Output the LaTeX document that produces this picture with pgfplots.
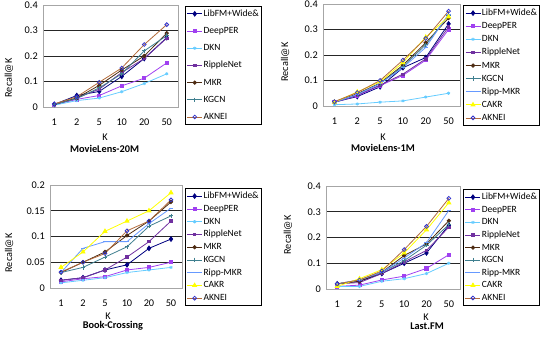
\documentclass[border=0pt]{standalone}
\usepackage{fontspec}
\setmainfont{Carlito}
\usepackage{pgfplots}
\pgfplotsset{compat=1.18}
\usepackage{pgfplotstable}

\definecolor{c1}{HTML}{000080}
\definecolor{c2}{HTML}{A040F0}
\definecolor{c3}{HTML}{66CCFF}
\definecolor{c4}{HTML}{7030A0}
\definecolor{c5}{HTML}{4D2B12}
\definecolor{c6}{HTML}{3F7F8F}
\definecolor{c7}{HTML}{6699FF}
\definecolor{c8}{HTML}{FFFF00}
\definecolor{c9}{HTML}{B36B3A}
\definecolor{c9m}{HTML}{3333CC}

% MovieLens-20M
\pgfplotstableread{
x libfm deepper dkn ripple mkr kgcn aknei
0 0.010 0.008 0.007 0.010 0.010 0.010 0.012
1 0.045 0.030 0.025 0.035 0.035 0.033 0.040
2 0.061 0.045 0.035 0.070 0.085 0.075 0.097
3 0.120 0.083 0.060 0.135 0.145 0.130 0.153
4 0.190 0.113 0.092 0.190 0.200 0.220 0.245
5 0.272 0.173 0.130 0.270 0.290 0.280 0.323
}\mltwenty

% MovieLens-1M
\pgfplotstableread{
x libfm deepper dkn ripple mkr kgcn rippmkr cakr aknei
0 0.015 0.015 0.005 0.015 0.015 0.015 0.015 0.015 0.017
1 0.037 0.040 0.008 0.042 0.048 0.045 0.045 0.055 0.053
2 0.075 0.080 0.015 0.082 0.090 0.088 0.088 0.095 0.100
3 0.150 0.120 0.020 0.125 0.160 0.155 0.150 0.170 0.180
4 0.190 0.180 0.035 0.185 0.248 0.240 0.230 0.270 0.265
5 0.322 0.300 0.050 0.310 0.345 0.355 0.360 0.350 0.372
}\mlone

% Book-Crossing
\pgfplotstableread{
x libfm deepper dkn ripple mkr kgcn rippmkr cakr aknei
0 0.015 0.012 0.010 0.015 0.030 0.030 0.030 0.040 0.031
1 0.020 0.018 0.015 0.020 0.050 0.040 0.077 0.070 0.050
2 0.035 0.022 0.020 0.035 0.070 0.060 0.090 0.110 0.067
3 0.045 0.035 0.030 0.060 0.102 0.080 0.090 0.130 0.111
4 0.077 0.040 0.035 0.090 0.130 0.120 0.125 0.150 0.130
5 0.095 0.050 0.040 0.130 0.167 0.140 0.155 0.185 0.171
}\bookx

% Last.FM
\pgfplotstableread{
x libfm deepper dkn ripple mkr kgcn rippmkr cakr aknei
0 0.020 0.010 0.010 0.020 0.020 0.020 0.020 0.010 0.020
1 0.030 0.015 0.010 0.025 0.030 0.035 0.035 0.040 0.035
2 0.060 0.035 0.030 0.060 0.065 0.065 0.065 0.075 0.070
3 0.100 0.050 0.040 0.105 0.130 0.110 0.120 0.140 0.153
4 0.140 0.080 0.060 0.150 0.175 0.170 0.180 0.230 0.243
5 0.248 0.133 0.100 0.240 0.265 0.250 0.305 0.335 0.352
}\lastfm

\pgfplotsset{
  s1/.style={color=c1, line width=0.8pt, mark=diamond*, mark size=2.3pt, mark options={solid}},
  s2/.style={color=c2, line width=0.8pt, mark=square*, mark size=1.6pt, mark options={solid}},
  s3/.style={color=c3, line width=0.8pt, mark=asterisk, mark size=1.6pt, mark options={solid}},
  s4/.style={color=c4, line width=0.8pt, mark=square*, mark size=1.2pt, mark options={solid}},
  s5/.style={color=c5, line width=0.8pt, mark=*, mark size=1.7pt, mark options={solid}},
  s6/.style={color=c6, line width=0.8pt, mark=+, mark size=2.2pt, mark options={solid}},
  s7/.style={color=c7, line width=0.8pt, mark=-, mark size=2.2pt, mark options={solid}},
  s8/.style={color=c8, line width=0.8pt, mark=triangle*, mark size=2.3pt, mark options={solid}},
  s9/.style={color=c9, line width=0.8pt, mark=o, mark size=1.9pt, mark options={solid, draw=c9m, fill=white, line width=0.8pt}},
  base/.style={
    scale only axis, anchor=south west, clip=false,
    xmin=-0.5, xmax=5.5, xtick={0,...,5}, xticklabels={1,2,5,10,20,50},
    ymin=0,
    major tick length=0pt,
    axis line style={gray!70},
    ymajorgrids,
    major grid style={black!85, line width=0.8pt},
    extra tick style={grid=none},
    tick label style={font=\fontsize{10.3}{12}\selectfont},
    /pgf/number format/assume math mode=true,
    yticklabel style={/pgf/number format/fixed, /pgf/number format/precision=2, xshift=-1.7pt},
    xticklabel style={yshift=-8pt},
    label style={font=\fontsize{10.3}{12}\selectfont},
    xlabel={K},
    ylabel={Recall@K},
    title style={font=\bfseries\fontsize{10.3}{12}\selectfont, anchor=center},
    legend cell align=left,
    legend style={draw=black, line width=1.2pt, anchor=north west,
      font=\fontsize{9.5}{10}\selectfont,
      inner xsep=1.5pt, inner ysep=2pt,
      nodes={inner sep=1pt, text height=7pt, text depth=2pt}},
    legend image code/.code={\draw[mark repeat=2,mark phase=2,##1] plot coordinates {(0pt,0pt) (7.5pt,0pt) (15pt,0pt)};},
  },
}

\begin{document}
\begin{tikzpicture}
\useasboundingbox (0,0) rectangle (550pt,339pt);

% MovieLens-20M
\begin{axis}[base, at={(43pt,232pt)}, width=135pt, height=102pt,
  ymax=0.4, ytick={0.1,0.2,0.3}, extra y ticks={0,0.4},
  xlabel style={at={(axis description cs:0.459,-0.294)}, anchor=center},
  ylabel style={at={(axis description cs:-0.252,0.284)}, anchor=center},
  title={MovieLens-20M}, title style={at={(axis description cs:0.456,-0.47)}},
  legend style={at={(axis description cs:1.05,0.993)}, row sep=6.2pt},
  legend entries={LibFM+Wide\&,DeepPER,DKN,RippleNet,MKR,KGCN,AKNEI}]
\addplot[s1] table[x=x,y=libfm]{\mltwenty};
\addplot[s2] table[x=x,y=deepper]{\mltwenty};
\addplot[s3] table[x=x,y=dkn]{\mltwenty};
\addplot[s4] table[x=x,y=ripple]{\mltwenty};
\addplot[s5] table[x=x,y=mkr]{\mltwenty};
\addplot[s6] table[x=x,y=kgcn]{\mltwenty};
\addplot[s9] table[x=x,y=aknei]{\mltwenty};
\end{axis}

% MovieLens-1M
\begin{axis}[base, at={(323pt,233pt)}, width=137pt, height=102pt,
  ymax=0.4, ytick={0.1,0.2,0.3}, extra y ticks={0,0.4},
  xlabel style={at={(axis description cs:0.438,-0.304)}, anchor=center},
  ylabel style={at={(axis description cs:-0.277,0.43)}, anchor=center},
  title={MovieLens-1M}, title style={at={(axis description cs:0.438,-0.47)}},
  legend style={at={(axis description cs:1.022,0.99)}, row sep=2.1pt},
  legend entries={LibFM+Wide\&,DeepPER,DKN,RippleNet,MKR,KGCN,Ripp-MKR,CAKR,AKNEI}]
\addplot[s1] table[x=x,y=libfm]{\mlone};
\addplot[s2] table[x=x,y=deepper]{\mlone};
\addplot[s3] table[x=x,y=dkn]{\mlone};
\addplot[s4] table[x=x,y=ripple]{\mlone};
\addplot[s5] table[x=x,y=mkr]{\mlone};
\addplot[s6] table[x=x,y=kgcn]{\mlone};
\addplot[s7] table[x=x,y=rippmkr]{\mlone};
\addplot[s8] table[x=x,y=cakr]{\mlone};
\addplot[s9] table[x=x,y=aknei]{\mlone};
\end{axis}

% Book-Crossing
\begin{axis}[base, at={(50pt,51pt)}, width=132pt, height=103pt,
  ymax=0.2, ytick={0.05,0.1,0.15}, extra y ticks={0,0.2},
  xlabel style={at={(axis description cs:0.44,-0.272)}, anchor=center},
  ylabel style={at={(axis description cs:-0.31,0.34)}, anchor=center},
  title={Book-Crossing}, title style={at={(axis description cs:0.477,-0.427)}},
  legend style={at={(axis description cs:1.02,0.97)}, row sep=1.75pt},
  legend entries={LibFM+Wide\&,DeepPER,DKN,RippleNet,MKR,KGCN,Ripp-MKR,CAKR,AKNEI}]
\addplot[s1] table[x=x,y=libfm]{\bookx};
\addplot[s2] table[x=x,y=deepper]{\bookx};
\addplot[s3] table[x=x,y=dkn]{\bookx};
\addplot[s4] table[x=x,y=ripple]{\bookx};
\addplot[s5] table[x=x,y=mkr]{\bookx};
\addplot[s6] table[x=x,y=kgcn]{\bookx};
\addplot[s7] table[x=x,y=rippmkr]{\bookx};
\addplot[s8] table[x=x,y=cakr]{\bookx};
\addplot[s9] table[x=x,y=aknei]{\bookx};
\end{axis}

% Last.FM
\begin{axis}[base, at={(326pt,50pt)}, width=134pt, height=103pt,
  ymax=0.4, ytick={0.1,0.2,0.3}, extra y ticks={0,0.4},
  xlabel style={at={(axis description cs:0.746,-0.272)}, anchor=center},
  ylabel style={at={(axis description cs:-0.284,0.524)}, anchor=center},
  title={Last.FM}, title style={at={(axis description cs:0.754,-0.417)}},
  legend style={at={(axis description cs:1.022,0.97)}, row sep=1.6pt},
  legend entries={LibFM+Wide\&,DeepPER,DKN,RippleNet,MKR,KGCN,Ripp-MKR,CAKR,AKNEI}]
\addplot[s1] table[x=x,y=libfm]{\lastfm};
\addplot[s2] table[x=x,y=deepper]{\lastfm};
\addplot[s3] table[x=x,y=dkn]{\lastfm};
\addplot[s4] table[x=x,y=ripple]{\lastfm};
\addplot[s5] table[x=x,y=mkr]{\lastfm};
\addplot[s6] table[x=x,y=kgcn]{\lastfm};
\addplot[s7] table[x=x,y=rippmkr]{\lastfm};
\addplot[s8] table[x=x,y=cakr]{\lastfm};
\addplot[s9] table[x=x,y=aknei]{\lastfm};
\end{axis}
\end{tikzpicture}
\end{document}
